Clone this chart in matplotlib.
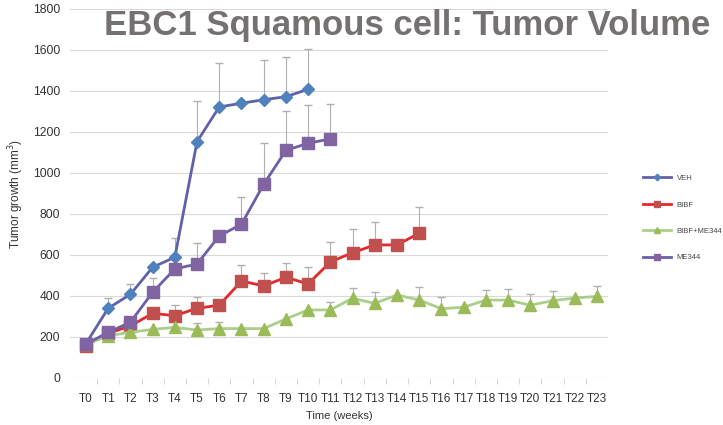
import numpy as np
import matplotlib
matplotlib.use("Agg")
import matplotlib.pyplot as plt

plt.rcParams['font.family'] = ['Liberation Sans', 'DejaVu Sans']

weeks = [f"T{i}" for i in range(24)]

veh = [168, 340, 408, 540, 589, 1153, 1322, 1340, 1357, 1372, 1408]
veh_top = [np.nan, 390, 457, np.nan, 683, 1350, 1537, np.nan, 1553, 1566, 1603]

bibf = [158, 218, 254, 315, 304, 340, 355, 473, 449, 491, 459, 566, 611, 649, 649, 706]
bibf_top = [np.nan, np.nan, np.nan, np.nan, 356, 397, np.nan, 551, 510, 561, 543,
            665, 727, 762, np.nan, 836]

combo = [165, 206, 223, 237, 247, 234, 241, 241, 241, 288, 332, 332, 389, 364,
         405, 380, 338, 345, 380, 380, 355, 377, 390, 398]
combo_top = [np.nan, np.nan, np.nan, np.nan, np.nan, 267, 272, np.nan, np.nan, np.nan,
             np.nan, 372, 437, 418, np.nan, 442, 394, np.nan, 429, 432, 408, 426,
             np.nan, 449]

me344 = [165, 223, 272, 418, 532, 556, 693, 750, 945, 1110, 1145, 1166]
me344_top = [np.nan, np.nan, np.nan, 488, np.nan, 657, np.nan, 883, 1148, 1302, 1333, 1338]

fig = plt.figure(figsize=(7.23, 4.25), dpi=100)
ax = fig.add_axes([0.0968, 0.1106, 0.7442, 0.8684])

series = [
    ("VEH", veh, veh_top, "#6160AA", "#4F81BD", "D", 6),
    ("BIBF", bibf, bibf_top, "#E8262A", "#C0504D", "s", 8),
    ("BIBF+ME344", combo, combo_top, "#A9CF8A", "#9BBB59", "^", 8),
    ("ME344", me344, me344_top, "#6A5FA8", "#8064A2", "s", 8),
]

for name, vals, top, lc, mc, mk, ms in series:
    x = np.arange(len(vals))
    v = np.array(vals, dtype=float)
    t = np.array(top, dtype=float)
    up = np.where(np.isnan(t), 0, t - v)
    has = ~np.isnan(t)
    eb = ax.errorbar(x[has], v[has], yerr=[np.zeros(has.sum()), up[has]], fmt="none",
                     ecolor="#B0B0B0", elinewidth=0.8, capsize=3, zorder=2)
    for cl in eb[1]:
        cl.set_color("#222222")
    for cl in eb[1][:1]:
        cl.set_visible(False)
    ax.plot(x, v, color=lc, lw=2, marker=mk, markersize=ms, markerfacecolor=mc,
            markeredgecolor=mc, label=name, zorder=3)

ax.set_xlim(-0.72, 23.5)
ax.set_ylim(0, 1800)
ax.set_yticks(range(0, 1801, 200))
ax.set_xticks(range(24))
ax.set_xticklabels(weeks)
ax.set_xticks(np.arange(0.5, 23, 1), minor=True)
ax.tick_params(axis="x", which="major", length=0, labelsize=8.5, pad=11, colors="#333333")
ax.tick_params(axis="x", which="minor", length=4, color="#D0D0D0", direction="out")
ax.tick_params(axis="y", length=0, labelsize=8.7, colors="#333333", pad=7)
ax.grid(axis="y", color="#D9D9D9", lw=0.8)
ax.set_axisbelow(True)
for s in ax.spines.values():
    s.set_visible(False)

ax.set_ylabel("Tumor growth (mm$^3$)", fontsize=8.5, color="#333333", labelpad=5)
ax.set_xlabel("Time (weeks)", fontsize=8, color="#333333", labelpad=4)

fig.text(0.563, 0.918, "EBC1 Squamous cell: Tumor Volume", ha="center", va="baseline",
         fontsize=25, fontweight="bold", color="#767171")

fig.legend(loc="upper left", bbox_to_anchor=(0.88, 0.605), frameon=False, fontsize=5.5,
           labelspacing=2.5, handlelength=3.6, markerscale=0.55, labelcolor="#444444")

fig.savefig("out.png", dpi=100)
